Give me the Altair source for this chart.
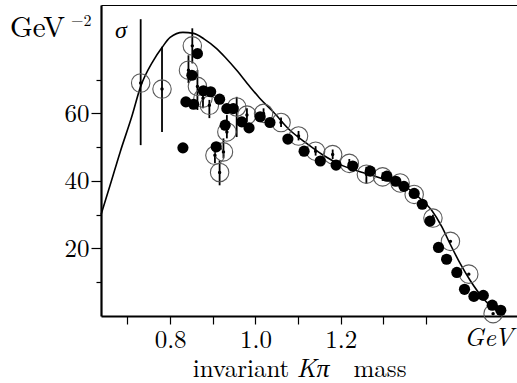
import altair as alt
import pandas as pd

# ---- data ----
curve_mass = [0.638, 0.660, 0.683, 0.710, 0.731, 0.760, 0.781, 0.800, 0.830, 0.855, 0.880,
              0.909, 0.930, 0.956, 0.987, 1.010, 1.042, 1.081, 1.120, 1.159, 1.198, 1.238,
              1.270, 1.300, 1.347, 1.386, 1.413, 1.437, 1.456, 1.480, 1.503, 1.534,
              1.558, 1.580]
curve_sigma = [30.0, 39.0, 48.6, 59.0, 68.0, 75.5, 79.5, 82.5, 84.0, 83.7, 82.0,
               79.2, 76.5, 72.8, 67.9, 64.5, 60.4, 55.0, 51.1, 47.6, 44.9, 43.0,
               41.8, 40.5, 38.6, 34.8, 31.3, 26.4, 21.4, 15.5, 10.6, 5.2,
               2.2, 1.0]

filled_mass = [0.830, 0.864, 0.851, 0.837, 0.855, 0.878, 0.895, 0.916, 0.933, 0.948, 0.968,
               0.985, 1.011, 1.034, 0.929, 0.908, 1.076, 1.114, 1.152, 1.189, 1.228, 1.269,
               1.308, 1.329, 1.348, 1.372, 1.391, 1.409, 1.429, 1.448, 1.472, 1.490, 1.512,
               1.534, 1.555, 1.575]
filled_sigma = [49.8, 77.7, 71.3, 63.4, 62.7, 66.7, 66.4, 64.2, 61.4, 61.4, 57.5,
                55.7, 59.0, 57.3, 56.5, 50.1, 52.4, 48.8, 45.9, 44.7, 44.4, 42.9,
                41.4, 39.9, 38.4, 36.3, 33.1, 28.1, 20.3, 16.8, 12.9, 7.9, 5.8,
                6.1, 3.2, 1.7]

open_mass = [0.731, 0.781, 0.852, 0.843, 0.864, 0.877, 0.892, 0.905, 0.916, 0.925, 0.933,
             0.956, 0.980, 1.019, 1.060, 1.101, 1.141, 1.181, 1.220, 1.260, 1.298, 1.339,
             1.372, 1.416, 1.457, 1.500, 1.557]
open_sigma = [69.0, 67.2, 80.0, 72.8, 68.0, 64.5, 62.4, 47.6, 42.5, 48.6, 54.5,
              61.9, 59.5, 60.0, 57.3, 53.3, 48.8, 47.8, 45.2, 42.0, 41.2, 39.4,
              36.0, 29.0, 22.1, 12.4, 0.7]
open_lo = [50.6, 54.5, 74.8, 69.0, 61.0, 61.5, 58.6, 45.2, 38.7, 46.7, 52.6,
           53.0, 57.5, 58.5, 56.0, 52.0, 47.5, 46.5, 44.0, 39.2, 40.0, 38.5,
           35.0, 28.0, 22.1, 12.4, 0.7]
open_hi = [87.9, 79.7, 85.2, 77.2, 72.8, 67.5, 64.0, 51.2, 46.1, 52.6, 59.5,
           64.9, 61.5, 61.5, 58.8, 54.8, 50.3, 49.3, 46.5, 44.2, 42.5, 40.5,
           37.0, 30.0, 22.1, 12.4, 0.7]

x_ticks = [0.7, 0.8, 0.9, 1.0, 1.1, 1.2, 1.3, 1.4]
y_ticks = [10, 20, 30, 40, 50, 60, 70]

curve_df = pd.DataFrame({"mass": curve_mass, "sigma": curve_sigma})
filled_df = pd.DataFrame({"mass": filled_mass, "sigma": filled_sigma})
open_df = pd.DataFrame({"mass": open_mass, "sigma": open_sigma, "lo": open_lo, "hi": open_hi})

SERIF = "Latin Modern Roman"
W, H = 416, 311
xscale = alt.Scale(domain=[0.638, 1.613], nice=False, zero=False)
yscale = alt.Scale(domain=[0, 92.1], nice=False, zero=False)

x_axis = alt.Axis(values=x_ticks, format=".1f",
                  labelExpr="(datum.label == '0.8' || datum.label == '1.0' || datum.label == '1.2') ? datum.label : ''",
                  title=None, grid=False, domainColor="black", domainWidth=2.2,
                  tickColor="black", tickSize=8, tickWidth=1.2, labelFont=SERIF,
                  labelFontSize=25, labelColor="black", labelPadding=3,
                  labelOverlap=False, labelFlush=False, labelBound=False)
y_axis = alt.Axis(values=y_ticks,
                  labelExpr="datum.value % 20 == 0 ? datum.label : ''",
                  title=None, grid=False, domainColor="black", domainWidth=2.2,
                  tickColor="black",
                  tickSize={"condition": {"test": "datum.value % 20 == 0", "value": 10}, "value": 5},
                  tickWidth=1.2, labelFont=SERIF, labelFontSize=25, labelColor="black",
                  labelPadding=2, labelOverlap=False, labelFlush=False, labelBound=False)
top_axis = alt.Axis(orient="top", labels=False, ticks=False, title=None, grid=False,
                    domainColor="black", domainWidth=1.2)

def Y(field):
    return alt.Y(field, type="quantitative", scale=yscale, axis=y_axis)

curve = alt.Chart(curve_df).mark_line(color="black", strokeWidth=1.6,
                                      interpolate="monotone").encode(
    x=alt.X("mass:Q", scale=xscale, axis=x_axis), y=Y("sigma"))

bars = alt.Chart(open_df).mark_rule(color="black", strokeWidth=1.8).encode(
    x=alt.X("mass:Q", scale=xscale, axis=None), y=Y("lo"), y2="hi")

rings = alt.Chart(open_df).mark_point(shape="circle", size=340, filled=False,
                                      stroke="#5a5a5a", strokeWidth=1.1, opacity=1).encode(
    x=alt.X("mass:Q", scale=xscale, axis=None), y=Y("sigma"))

centers = alt.Chart(open_df).mark_circle(size=12, color="black", opacity=1).encode(
    x=alt.X("mass:Q", scale=xscale, axis=None), y=Y("sigma"))

dots = alt.Chart(filled_df).mark_circle(size=125, color="black", opacity=1).encode(
    x=alt.X("mass:Q", scale=xscale, axis=top_axis), y=Y("sigma"))

one = pd.DataFrame({"k": [0]})
def label(text, x, y, size=25, style="normal", align="left"):
    return alt.Chart(one).mark_text(text=text, font=SERIF, fontSize=size, fontStyle=style,
                                    align=align, baseline="alphabetic", color="black").encode(
        x=alt.value(x), y=alt.value(y))

texts = [
    label("GeV", -91, 32, size=29),
    label("\u22122", -30, 21, size=16),
    label("\u03c3", 14, 33, size=24, style="italic"),
    label("GeV", 363, 341, size=26, style="italic"),
    label("invariant", 140, 372, size=25, align="center"),
    label("K\u03c0", 212, 372, size=26, style="italic", align="center"),
    label("mass", 279, 372, size=25, align="center"),
]

chart = alt.layer(curve, bars, rings, centers, dots, *texts).resolve_axis(
    x="independent").properties(
    width=W, height=H, autosize="none",
    padding={"left": 101, "top": 5, "right": 0, "bottom": 67},
).configure_view(stroke=None).configure(background="white")

chart.save("out.html", embed_options={"renderer": "svg", "actions": False})
